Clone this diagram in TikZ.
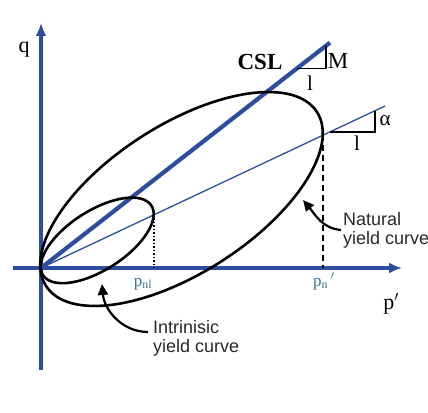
\documentclass[tikz,border=0pt]{standalone}
\usepackage{fontspec}
\setmainfont{Liberation Serif}
\newfontfamily\labelsans{Liberation Sans}
\usetikzlibrary{arrows.meta,calc}
\definecolor{axisblue}{RGB}{45,78,158}
\definecolor{labteal}{RGB}{55,115,150}
\definecolor{labgray}{RGB}{40,40,45}
\begin{document}
\begin{tikzpicture}[x=1pt,y=1pt,
  axis/.style={draw=axisblue,line width=4.5pt,-{Latex[length=13pt,width=11pt]}},
  cslline/.style={draw=axisblue,line width=4.2pt},
  alline/.style={draw=axisblue,line width=1.3pt},
  yc/.style={draw=black,line width=2.6pt},
  tri/.style={draw=black,line width=1.4pt},
  dashedguide/.style={draw=black,line width=1.8pt,dash pattern=on 6pt off 4pt},
  dottedguide/.style={draw=black,line width=1.4pt,dash pattern=on 1.5pt off 2pt},
  callout/.style={draw=black,line width=2.2pt,-{Triangle[length=11pt,width=10pt]}},
  serif/.style={inner sep=0pt,text=black},
  plabel/.style={inner sep=0pt,text=labteal,font=\fontsize{17}{17}\selectfont},
  sanslabel/.style={inner sep=0pt,text=labgray,align=left,font=\labelsans\fontsize{18}{19.5}\selectfont}]
\useasboundingbox (-41,-144) rectangle (387,268);
% axes
\coordinate (O) at (0,0);
\coordinate (ybot) at (0,-102);
\coordinate (ytop) at (0,245);
\coordinate (xl) at (-28,0);
\coordinate (xr) at (361,0);
\draw[axis] (ybot) -- (ytop);
\draw[axis] (xl) -- (xr);
% critical state line and alpha line
\coordinate (cslend) at (289,225.4);
\coordinate (alend) at (344,162);
\draw[cslline] (O) -- (cslend);
\draw[alline] (O) -- (alend);
% yield curves
\draw[yc,rotate around={32.7:(140.5,69)}] (140.5,69) ellipse [x radius=161, y radius=74];
\draw[yc,rotate around={32.7:(56.2,27.6)}] (56.2,27.6) ellipse [x radius=64.4, y radius=29.6];
% guides
\coordinate (pnT) at (282,132.8);
\coordinate (pnB) at (282,0);
\coordinate (pnlT) at (112.8,53.1);
\coordinate (pnlB) at (112.8,0);
\draw[dashedguide] (pnT) -- (pnB);
\draw[dottedguide] (pnlT) -- (pnlB);
% slope triangles
\coordinate (m1) at (256,199.7);
\coordinate (m2) at (285,199.7);
\coordinate (m3) at (285,222.3);
\draw[tri] (m1) -- (m2) -- (m3);
\coordinate (a1) at (289,136.1);
\coordinate (a2) at (334,136.1);
\coordinate (a3) at (334,157.3);
\draw[tri] (a1) -- (a2) -- (a3);
% texts
\node[serif,font=\fontsize{23}{23}\selectfont\bfseries] (csl) at (219,206) {CSL};
\node[serif,font=\fontsize{23}{23}\selectfont] (M) at (297,207) {M};
\node[serif,font=\fontsize{21}{21}\selectfont] (oneM) at (269,185) {l};
\node[serif,font=\fontsize{21}{21}\selectfont] (alph) at (344,147) {α};
\node[serif,font=\fontsize{21}{21}\selectfont] (oneA) at (316,125) {l};
\node[serif,font=\fontsize{22}{22}\selectfont] (q) at (-17,218) {q};
\node[serif,font=\fontsize{22}{22}\selectfont] (pp) at (350,-36) {p$'$};
\node[plabel,anchor=base] (pnl) at (102,-18) {p\textsubscript{nl}};
\node[plabel,anchor=base] (pn) at (283,-18) {p\textsubscript{n}\,$'$};
% callouts
\node[sanslabel,anchor=north west] (nat) at (302,56) {Natural\\yield curve};
\node[sanslabel,anchor=north west] (intr) at (112,-52) {Intrinisic\\yield curve};
\coordinate (natTip) at (262,68);
\coordinate (intrTip) at (61,-16);
\draw[callout] ($(nat.north west)+(-2,-18)$) to[out=175,in=-50] (natTip);
\draw[callout] ($(intr.north west)+(-5,-12)$) to[out=180,in=-85] (intrTip);
\end{tikzpicture}
\end{document}
